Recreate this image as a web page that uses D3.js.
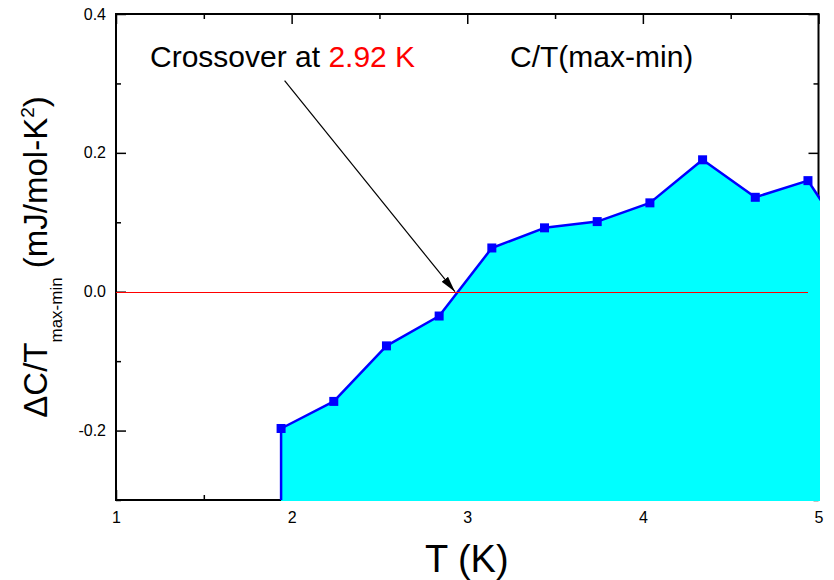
<!DOCTYPE html>
<html>
<head>
<meta charset="utf-8">
<script src="https://cdn.jsdelivr.net/npm/d3@7"></script>
<style>
  body { margin: 0; background: #fff; }
  svg { display: block; font-family: "Liberation Sans", Arial, sans-serif; }
</style>
</head>
<body>
<svg id="chart" width="834" height="580"></svg>
<script>
// data
const temps = [1.94, 2.24, 2.54, 2.84, 3.14, 3.44, 3.74, 4.04, 4.34, 4.64, 4.94, 5.24];
const dCT = [-0.197, -0.158, -0.078, -0.035, 0.063, 0.092, 0.101, 0.128, 0.190, 0.136, 0.160, 0.045];
const xMajor = [1, 2, 3, 4, 5];
const xMinor = [1.5, 2.5, 3.5, 4.5];
const yMajor = [-0.2, 0.0, 0.2, 0.4];
const yMinor = [-0.3, -0.1, 0.1, 0.3];
const zeroLine = [1, 4.94];
const crossover = 2.93;
const crossLabel = "2.92 K";
const arrowStart = [1.96, 0.304];

const W = 834, H = 580;
const margin = {top: 14, right: 15.5, bottom: 80, left: 116};

const svg = d3.select("#chart");

const x = d3.scaleLinear().domain([1, 5]).range([margin.left, W - margin.right]);
const y = d3.scaleLinear().domain([-0.3, 0.4]).range([H - margin.bottom, margin.top]);

const pts = temps.map((t, i) => ({t: t, v: dCT[i]}));

// ticks (inward), drawn under the fill
const axisG = svg.append("g").attr("class", "axes");

const styleAxis = g => {
	g.select(".domain").remove();
	g.selectAll(".tick line").attr("stroke", "#000").attr("stroke-width", 1.5);
	g.selectAll(".tick text").attr("fill", "#000").style("font-size", "16px")
		.style("font-family", "'Liberation Sans', Arial, sans-serif");
};

axisG.append("g").attr("transform", `translate(0,${y.range()[0]})`)
	.call(d3.axisBottom(x).tickValues(xMajor).tickSize(-10).tickPadding(11.5).tickFormat(d3.format("d")))
	.call(styleAxis);
axisG.append("g").attr("transform", `translate(0,${y.range()[0]})`)
	.call(d3.axisBottom(x).tickValues(xMinor).tickSize(-5).tickFormat(""))
	.call(styleAxis);
axisG.append("g").attr("transform", `translate(0,${y.range()[1]})`)
	.call(d3.axisTop(x).tickValues(xMajor).tickSize(-10).tickFormat(""))
	.call(styleAxis);
axisG.append("g").attr("transform", `translate(0,${y.range()[1]})`)
	.call(d3.axisTop(x).tickValues(xMinor).tickSize(-5).tickFormat(""))
	.call(styleAxis);
axisG.append("g").attr("transform", `translate(${x.range()[0]},0)`)
	.call(d3.axisLeft(y).tickValues(yMajor).tickSize(-10).tickPadding(10).tickFormat(d => d.toFixed(1)))
	.call(styleAxis);
axisG.append("g").attr("transform", `translate(${x.range()[0]},0)`)
	.call(d3.axisLeft(y).tickValues(yMinor).tickSize(-5).tickFormat(""))
	.call(styleAxis);
axisG.append("g").attr("transform", `translate(${x.range()[1]},0)`)
	.call(d3.axisRight(y).tickValues(yMajor).tickSize(-10).tickFormat(""))
	.call(styleAxis);
axisG.append("g").attr("transform", `translate(${x.range()[1]},0)`)
	.call(d3.axisRight(y).tickValues(yMinor).tickSize(-5).tickFormat(""))
	.call(styleAxis);

// frame
svg.append("rect")
	.attr("x", x.range()[0]).attr("y", y.range()[1])
	.attr("width", x.range()[1] - x.range()[0])
	.attr("height", y.range()[0] - y.range()[1])
	.attr("fill", "none").attr("stroke", "#000").attr("stroke-width", 2);

// clip slightly larger than plot so fill covers the frame lines
svg.append("clipPath").attr("id", "plotClip").append("rect")
	.attr("x", x.range()[0]).attr("y", y.range()[1] - 1)
	.attr("width", x.range()[1] - x.range()[0] + 1.5)
	.attr("height", y.range()[0] - y.range()[1] + 2);

const plot = svg.append("g").attr("clip-path", "url(#plotClip)");

const area = d3.area().x(d => x(d.t)).y0(y(-0.3) + 1).y1(d => y(d.v));
plot.append("path").datum(pts)
	.attr("d", area)
	.attr("fill", "#00ffff");

const line = d3.line().x(d => x(d.t)).y(d => y(d.v));
plot.append("path").datum([{t: temps[0], v: y.domain()[0]}, ...pts])
	.attr("d", line)
	.attr("fill", "none")
	.attr("stroke", "#0000ff")
	.attr("stroke-width", 2.5)
	.attr("stroke-linejoin", "round");

plot.selectAll("rect.pt").data(pts).enter().append("rect")
	.attr("class", "pt")
	.attr("x", d => x(d.t) - 4.5).attr("y", d => y(d.v) - 4.5)
	.attr("width", 9).attr("height", 9)
	.attr("fill", "#0000ff");

// zero reference line
svg.append("line")
	.attr("x1", x(zeroLine[0])).attr("x2", x(zeroLine[1]))
	.attr("y1", y(0) + 0.5).attr("y2", y(0) + 0.5)
	.attr("stroke", "#ff0000").attr("stroke-width", 1.4)
	.attr("shape-rendering", "crispEdges");

// arrow
svg.append("defs").append("marker")
	.attr("id", "arrowHead")
	.attr("markerUnits", "userSpaceOnUse")
	.attr("viewBox", "0 0 16 8")
	.attr("refX", 16).attr("refY", 4)
	.attr("markerWidth", 16).attr("markerHeight", 8)
	.attr("orient", "auto")
	.append("path").attr("d", "M0,0 L16,4 L0,8 Z").attr("fill", "#000");

svg.append("line")
	.attr("x1", x(arrowStart[0])).attr("y1", y(arrowStart[1]))
	.attr("x2", x(crossover)).attr("y2", y(0))
	.attr("stroke", "#000").attr("stroke-width", 1.2)
	.attr("marker-end", "url(#arrowHead)");

// annotations
const note = svg.append("text")
	.attr("x", 150).attr("y", 67)
	.style("font-size", "30px").attr("fill", "#000");
note.append("tspan").text("Crossover at ");
note.append("tspan").attr("fill", "#ff0000").text(crossLabel);

svg.append("text")
	.attr("x", 510).attr("y", 67)
	.style("font-size", "30px").attr("fill", "#000")
	.text("C/T(max-min)");

// axis titles
svg.append("text")
	.attr("x", (x.range()[0] + x.range()[1]) / 2 - 0.5)
	.attr("y", 572)
	.attr("text-anchor", "middle")
	.style("font-size", "38px")
	.text("T (K)");

const yl = svg.append("text")
	.attr("transform", `translate(47,${(y.range()[0] + y.range()[1]) / 2}) rotate(-90)`)
	.attr("text-anchor", "middle")
	.style("font-size", "33px");
yl.append("tspan").text("\u0394C/T");
yl.append("tspan").attr("dy", 15).style("font-size", "17px").text("max-min");
yl.append("tspan").attr("dy", -15).text("\u00a0(mJ/mol-K");
yl.append("tspan").attr("dy", -13).style("font-size", "19px").text("2");
yl.append("tspan").attr("dy", 13).text(")");
</script>
</body>
</html>
